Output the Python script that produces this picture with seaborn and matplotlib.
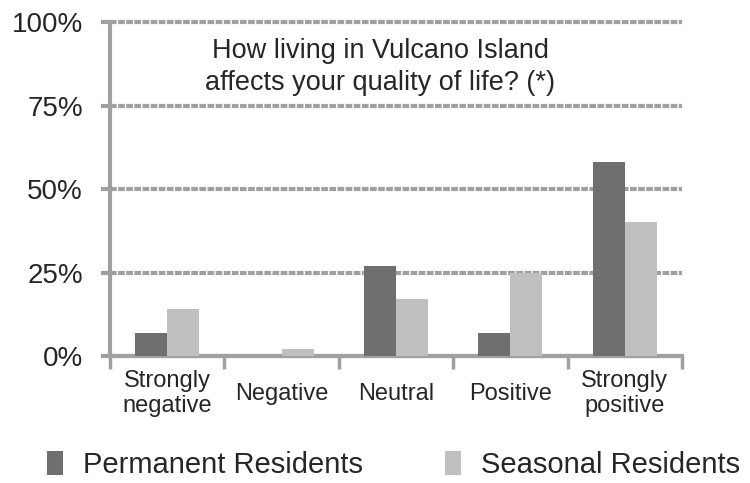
import pandas as pd
import matplotlib.pyplot as plt
import seaborn as sns
from matplotlib.ticker import FixedLocator

categories = ["Strongly\nnegative", "Negative", "Neutral", "Positive", "Strongly\npositive"]
permanent = [7, 0, 27, 7, 58]
seasonal = [14, 2, 17, 25, 40]
groups = ["Permanent Residents", "Seasonal Residents"]
yticks = [0, 25, 50, 75, 100]

df = pd.DataFrame({
    "answer": categories * 2,
    "share": permanent + seasonal,
    "group": [groups[0]] * len(categories) + [groups[1]] * len(categories),
})

sns.set_style("white")
plt.rcParams["font.family"] = ["Liberation Sans", "DejaVu Sans"]

fig = plt.figure(figsize=(7.5, 4.83), dpi=100)
ax = fig.add_axes([0.1467, 0.2629, 0.7627, 0.6915])

grid_col = "#a0a0a0"
sns.barplot(data=df, x="answer", y="share", hue="group", order=categories,
            palette={groups[0]: "#6f6f6f", groups[1]: "#c0c0c0"},
            width=0.56, saturation=1, linewidth=0, ax=ax, zorder=3)

ax.set_ylim(0, 100)
ax.set_xlim(-0.5, 4.5)
ax.set_yticks(yticks)
ax.set_yticklabels([f"{v}%" for v in yticks], fontsize=20)
ax.yaxis.grid(True, color=grid_col, lw=3, ls=(0, (1.6, 0.35)), zorder=0)
for gl in ax.get_ygridlines():
    gl.set_clip_on(False)  # keep the 100% line full width
ax.set_axisbelow(True)
ax.tick_params(axis="y", left=True, length=6.5, width=3, color=grid_col, pad=13)

# category separators as minor ticks, labels centred under each pair
ax.xaxis.set_minor_locator(FixedLocator([-0.5, 0.5, 1.5, 2.5, 3.5, 4.5]))
ax.tick_params(axis="x", which="minor", bottom=True, length=9, width=2.5,
               color=grid_col, direction="out")
ax.tick_params(axis="x", which="major", length=0, pad=27, labelsize=17)
for lab in ax.get_xticklabels():
    lab.set_va("center")
    lab.set_ha("center")

for side in ["top", "right"]:
    ax.spines[side].set_visible(False)
for side in ["left", "bottom"]:
    ax.spines[side].set_color(grid_col)
    ax.spines[side].set_linewidth(3)

ax.set_xlabel("")
ax.set_ylabel("")

ax.text(1.86, 86.5, "How living in Vulcano Island\naffects your quality of life? (*)",
        ha="center", va="center", fontsize=19.5, linespacing=1.3)

handles, labels = ax.get_legend_handles_labels()
ax.get_legend().remove()
fig.legend(handles, labels, loc="center", bbox_to_anchor=(0.525, 0.037), ncol=2,
           frameon=False, fontsize=21, handlelength=0.55, handleheight=0.85,
           handletextpad=0.7, columnspacing=2.8)

fig.savefig("out.png", dpi=100)
